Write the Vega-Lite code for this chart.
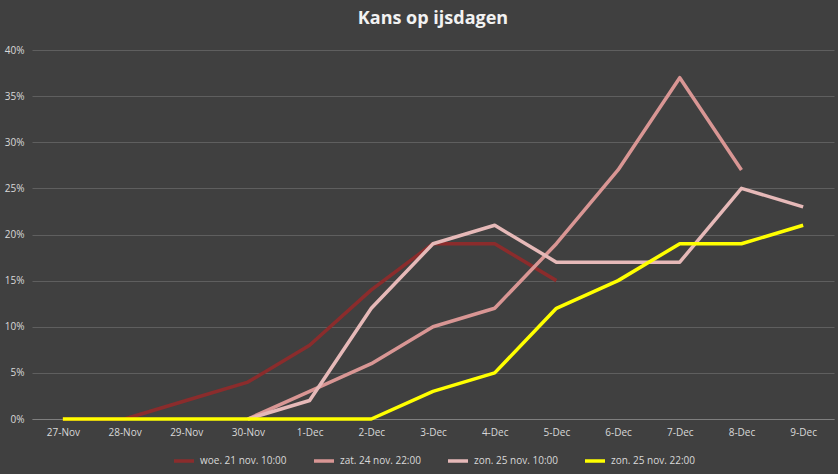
{
  "$schema": "https://vega.github.io/schema/vega-lite/v6.json",
  "width": 838,
  "height": 474,
  "autosize": {"type": "fit", "contains": "padding"},
  "background": "#404040",
  "padding": {"left": 4, "right": 4, "top": 10, "bottom": 6},
  "title": {"text": "Kans op ijsdagen", "color": "#f2f2f2", "fontSize": 18, "font": "Open Sans", "fontWeight": "bold", "offset": 17},
  "config": {"view": {"stroke": null}, "font": "Open Sans", "legend": {"layout": {"bottom": {"anchor": "middle"}}}},
  "data": {
    "values": [
      {"d": "27-Nov", "s": "woe. 21 nov. 10:00", "v": 0},
      {"d": "28-Nov", "s": "woe. 21 nov. 10:00", "v": 0},
      {"d": "29-Nov", "s": "woe. 21 nov. 10:00", "v": 0.02},
      {"d": "30-Nov", "s": "woe. 21 nov. 10:00", "v": 0.04},
      {"d": "1-Dec", "s": "woe. 21 nov. 10:00", "v": 0.08},
      {"d": "2-Dec", "s": "woe. 21 nov. 10:00", "v": 0.14},
      {"d": "3-Dec", "s": "woe. 21 nov. 10:00", "v": 0.19},
      {"d": "4-Dec", "s": "woe. 21 nov. 10:00", "v": 0.19},
      {"d": "5-Dec", "s": "woe. 21 nov. 10:00", "v": 0.15},
      {"d": "30-Nov", "s": "zat. 24 nov. 22:00", "v": 0},
      {"d": "1-Dec", "s": "zat. 24 nov. 22:00", "v": 0.03},
      {"d": "2-Dec", "s": "zat. 24 nov. 22:00", "v": 0.06},
      {"d": "3-Dec", "s": "zat. 24 nov. 22:00", "v": 0.10},
      {"d": "4-Dec", "s": "zat. 24 nov. 22:00", "v": 0.12},
      {"d": "5-Dec", "s": "zat. 24 nov. 22:00", "v": 0.19},
      {"d": "6-Dec", "s": "zat. 24 nov. 22:00", "v": 0.27},
      {"d": "7-Dec", "s": "zat. 24 nov. 22:00", "v": 0.37},
      {"d": "8-Dec", "s": "zat. 24 nov. 22:00", "v": 0.27},
      {"d": "30-Nov", "s": "zon. 25 nov. 10:00", "v": 0},
      {"d": "1-Dec", "s": "zon. 25 nov. 10:00", "v": 0.02},
      {"d": "2-Dec", "s": "zon. 25 nov. 10:00", "v": 0.12},
      {"d": "3-Dec", "s": "zon. 25 nov. 10:00", "v": 0.19},
      {"d": "4-Dec", "s": "zon. 25 nov. 10:00", "v": 0.21},
      {"d": "5-Dec", "s": "zon. 25 nov. 10:00", "v": 0.17},
      {"d": "6-Dec", "s": "zon. 25 nov. 10:00", "v": 0.17},
      {"d": "7-Dec", "s": "zon. 25 nov. 10:00", "v": 0.17},
      {"d": "8-Dec", "s": "zon. 25 nov. 10:00", "v": 0.25},
      {"d": "9-Dec", "s": "zon. 25 nov. 10:00", "v": 0.23},
      {"d": "27-Nov", "s": "zon. 25 nov. 22:00", "v": 0},
      {"d": "28-Nov", "s": "zon. 25 nov. 22:00", "v": 0},
      {"d": "29-Nov", "s": "zon. 25 nov. 22:00", "v": 0},
      {"d": "30-Nov", "s": "zon. 25 nov. 22:00", "v": 0},
      {"d": "1-Dec", "s": "zon. 25 nov. 22:00", "v": 0},
      {"d": "2-Dec", "s": "zon. 25 nov. 22:00", "v": 0},
      {"d": "3-Dec", "s": "zon. 25 nov. 22:00", "v": 0.03},
      {"d": "4-Dec", "s": "zon. 25 nov. 22:00", "v": 0.05},
      {"d": "5-Dec", "s": "zon. 25 nov. 22:00", "v": 0.12},
      {"d": "6-Dec", "s": "zon. 25 nov. 22:00", "v": 0.15},
      {"d": "7-Dec", "s": "zon. 25 nov. 22:00", "v": 0.19},
      {"d": "8-Dec", "s": "zon. 25 nov. 22:00", "v": 0.19},
      {"d": "9-Dec", "s": "zon. 25 nov. 22:00", "v": 0.21}
    ]
  },
  "mark": {"type": "line", "strokeWidth": 3.5, "strokeJoin": "round"},
  "encoding": {
    "x": {
      "field": "d", "type": "ordinal", "title": null,
      "sort": ["27-Nov","28-Nov","29-Nov","30-Nov","1-Dec","2-Dec","3-Dec","4-Dec","5-Dec","6-Dec","7-Dec","8-Dec","9-Dec"],
      "scale": {"type": "point", "padding": 0.5},
      "axis": {"labelAngle": 0, "labelColor": "#d9d9d9", "labelFontSize": 10, "domainColor": "#7f7f7f", "ticks": false, "labelPadding": 8}
    },
    "y": {
      "field": "v", "type": "quantitative", "title": null,
      "scale": {"domain": [0, 0.4]},
      "axis": {"format": ".0%", "values": [0,0.05,0.1,0.15,0.2,0.25,0.3,0.35,0.4], "labelColor": "#d9d9d9", "labelFontSize": 10, "gridColor": "#5f5f5f", "domain": false, "ticks": false, "labelPadding": 8}
    },
    "color": {
      "field": "s", "type": "nominal",
      "scale": {"domain": ["woe. 21 nov. 10:00","zat. 24 nov. 22:00","zon. 25 nov. 10:00","zon. 25 nov. 22:00"], "range": ["#8b2c2c","#d99694","#e6b9b8","#ffff00"]},
      "legend": {"orient": "bottom", "title": null, "labelColor": "#d9d9d9", "labelFontSize": 10, "symbolType": "stroke", "symbolStrokeWidth": 3.5, "symbolSize": 400, "columnPadding": 20, "offset": 12}
    }
  }
}
